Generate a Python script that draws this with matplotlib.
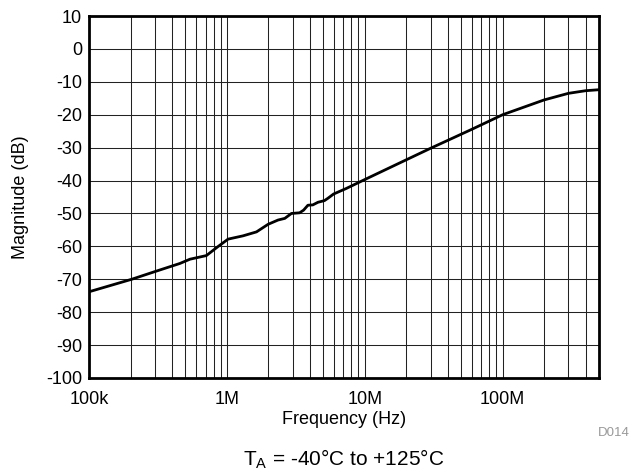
import matplotlib
matplotlib.use("Agg")
import matplotlib.pyplot as plt
from matplotlib.ticker import FixedLocator, LogLocator, NullFormatter

plt.rcParams['font.family'] = ['Liberation Sans', 'DejaVu Sans']
plt.rcParams['axes.unicode_minus'] = False

# magnitude vs frequency
freq_hz = [1.0e5, 2.04e5, 3.09e5, 4.56e5, 5.4e5, 7.1e5, 8.6e5, 1.02e6, 1.31e6,
           1.64e6, 1.99e6, 2.35e6, 2.63e6, 2.94e6, 3.37e6, 3.6e6, 3.87e6,
           4.2e6, 4.58e6, 5.1e6, 5.4e6, 5.94e6, 7.35e6, 1.0e7, 2.0e7, 3.0e7,
           6.0e7, 1.0e8, 2.0e8, 3.0e8, 4.0e8, 5.0e8]
mag_db = [-73.8, -70.0, -67.5, -65.2, -63.9, -62.8, -60.1, -57.8, -56.8,
          -55.6, -53.3, -52.0, -51.5, -50.0, -49.8, -49.0, -47.5,
          -47.4, -46.6, -46.1, -45.4, -44.1, -42.4, -39.7, -33.7, -30.2,
          -24.4, -20.0, -15.5, -13.5, -12.7, -12.4]

x_ticks = [1e5, 1e6, 1e7, 1e8]
x_labels = ["100k", "1M", "10M", "100M"]
y_ticks = list(range(-100, 11, 10))

fig = plt.figure(figsize=(6.37, 4.73), dpi=100)
ax = fig.add_axes([89/637, 1 - 378/473, 510/637, 362/473])

ax.plot(freq_hz, mag_db, color="black", linewidth=2.0, solid_capstyle="butt")

ax.set_xscale("log")
ax.set_xlim(1e5, 5e8)
ax.set_ylim(-100, 10)
ax.xaxis.set_major_locator(FixedLocator(x_ticks))
ax.set_xticklabels(x_labels)
ax.xaxis.set_minor_locator(LogLocator(base=10, subs=range(2, 10), numticks=20))
ax.xaxis.set_minor_formatter(NullFormatter())
ax.set_yticks(y_ticks)

ax.grid(True, which="both", color="#222222", linewidth=0.75)
ax.set_axisbelow(True)
ax.tick_params(which="both", length=0, labelsize=13, colors="black")
ax.tick_params(axis="x", pad=9)
ax.tick_params(axis="y", pad=5)

for s in ax.spines.values():
    s.set_linewidth(2)
    s.set_color("black")

ax.set_xlabel("Frequency (Hz)", fontsize=13)
ax.set_ylabel("Magnitude (dB)", fontsize=13)
ax.xaxis.set_label_coords(0.5, -0.09)
ax.yaxis.set_label_coords(-0.118, 0.5)

fig.text(630/637, 1 - 433/473, "D014", fontsize=9.5, color="#999999", ha="right", va="center")
fig.text(0.5 * (89 + 599) / 637, 1 - 465/473, r"T$_\mathregular{A}$ = -40°C to +125°C",
         fontsize=15, ha="center", va="baseline")

fig.savefig("out.png", dpi=100)
